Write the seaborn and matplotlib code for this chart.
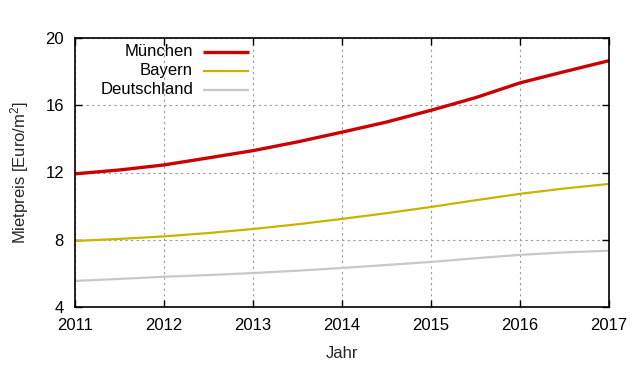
import matplotlib
matplotlib.use("Agg")
import matplotlib.pyplot as plt
import seaborn as sns
import pandas as pd

years = [2011, 2011.5, 2012, 2012.5, 2013, 2013.5, 2014, 2014.5, 2015, 2015.5, 2016, 2016.5, 2017]
muenchen = [11.92, 12.15, 12.45, 12.87, 13.3, 13.82, 14.4, 15.0, 15.7, 16.45, 17.33, 18.0, 18.65]
bayern = [7.93, 8.05, 8.2, 8.4, 8.64, 8.92, 9.24, 9.58, 9.95, 10.35, 10.73, 11.05, 11.32]
deutschland = [5.55, 5.67, 5.8, 5.9, 6.02, 6.16, 6.32, 6.5, 6.68, 6.9, 7.1, 7.25, 7.35]
series = ["München", "Bayern", "Deutschland"]
colors = ["#cc0000", "#c8b400", "#c8c8c8"]
widths = [2.4, 1.6, 1.6]
xticks = [2011, 2012, 2013, 2014, 2015, 2016, 2017]
yticks = [4, 8, 12, 16, 20]

df = pd.concat([
    pd.DataFrame({"Jahr": years, "Wert": vals, "Region": name})
    for name, vals in zip(series, [muenchen, bayern, deutschland])
])

sns.set_style("ticks")
plt.rcParams['font.family'] = ['Liberation Sans', 'DejaVu Sans']
plt.rcParams['mathtext.fontset'] = 'custom'
plt.rcParams['mathtext.rm'] = 'Liberation Sans'
plt.rcParams['mathtext.it'] = 'Liberation Sans'

W, H = 640, 380
fig = plt.figure(figsize=(6.4, 3.8), dpi=100)
ax = fig.add_axes([75/W, 1-307/H, (609-75)/W, (307-38)/H])

sns.lineplot(data=df, x="Jahr", y="Wert", hue="Region", hue_order=series,
             palette=colors, ax=ax, legend=False)
for line, lw in zip(ax.lines, widths):
    line.set_linewidth(lw)

ax.set_xlim(2011, 2017)
ax.set_ylim(4, 20)
ax.set_xticks(xticks)
ax.set_xticklabels([str(x) for x in xticks])
ax.set_yticks(yticks)
ax.tick_params(direction='in', top=True, right=True, length=5, width=1,
               labelsize=12, colors='black')
ax.tick_params(axis='x', pad=8)
ax.tick_params(axis='y', pad=8)
ax.grid(True, linestyle=(0, (2, 3)), color='#999999', linewidth=0.8)
for s in ax.spines.values():
    s.set_linewidth(1.2)
    s.set_color('black')
ax.set_xlabel("Jahr", fontsize=12, labelpad=9)
ax.set_ylabel(r"Mietpreis [Euro/m$^2$]", fontsize=12, labelpad=10)

# legend drawn manually: right-aligned text, line sample to the right
def fx(px):
    return (px - 75) / (609 - 75)

def fy(py):
    return (307 - py) / (307 - 38)

for i, (name, c, w) in enumerate(zip(series, colors, widths)):
    ypx = 52 + i * 19
    ax.text(fx(193), fy(ypx), name, transform=ax.transAxes, ha='right',
            va='center', fontsize=12, color='black')
    ax.plot([fx(203), fx(249)], [fy(ypx), fy(ypx)], transform=ax.transAxes,
            color=c, lw=w, solid_capstyle='butt')

fig.savefig("out.png", dpi=100)
